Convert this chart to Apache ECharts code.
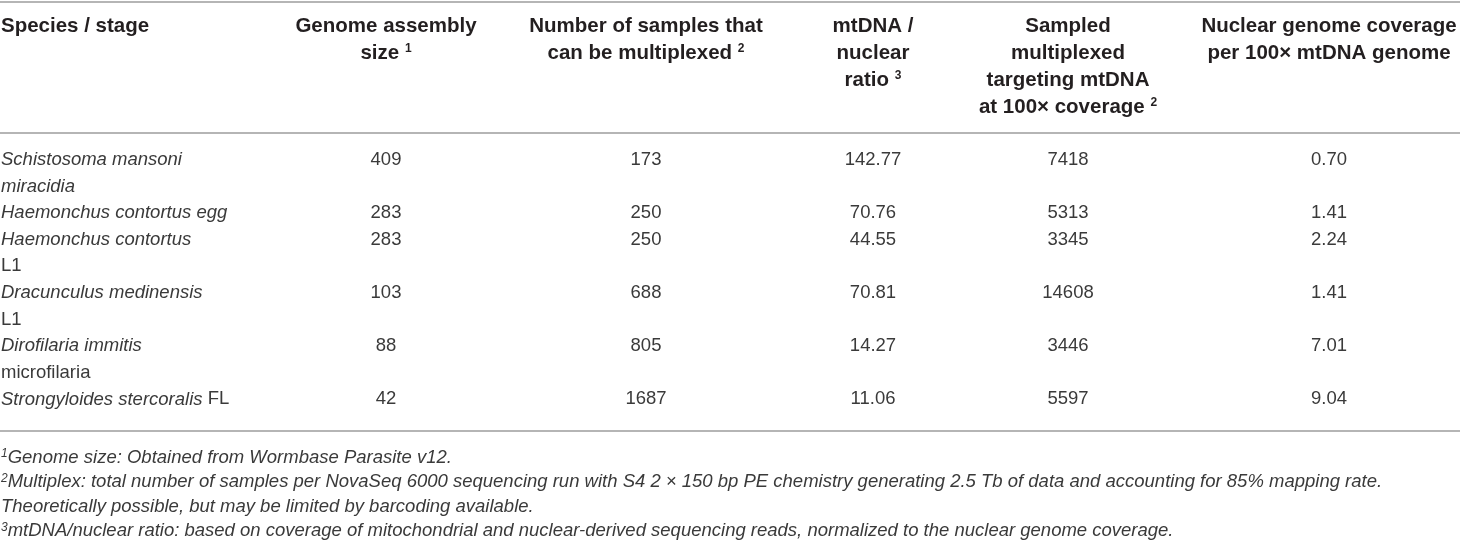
<!DOCTYPE html>
<html>
<head>
<meta charset="utf-8">
<script src="https://cdn.jsdelivr.net/npm/echarts@6/dist/echarts.min.js"></script>
<style>
html, body { margin: 0; padding: 0; background: #fff; }
#table { width: 1460px; height: 542px; }
</style>
</head>
<body>
<div id="table"></div>
<script>
// column headers, one entry per text line ({s|..} = superscript)
var headers = [
	['Species / stage'],
	['Genome assembly', 'size {s|1}'],
	['Number of samples that', 'can be multiplexed {s|2}'],
	['mtDNA /', 'nuclear', 'ratio {s|3}'],
	['Sampled', 'multiplexed', 'targeting mtDNA', 'at 100\u00d7 coverage {s|2}'],
	['Nuclear genome coverage', 'per 100\u00d7 mtDNA genome']
];

// species / stage, each row wraps onto one or two lines ({i|..} = italic)
var species = [
	['{i|Schistosoma mansoni}', '{i|miracidia}'],
	['{i|Haemonchus contortus egg}'],
	['{i|Haemonchus contortus}', 'L1'],
	['{i|Dracunculus medinensis}', 'L1'],
	['{i|Dirofilaria immitis}', 'microfilaria'],
	['{i|Strongyloides stercoralis} FL']
];

var genomeSize = [409, 283, 283, 103, 88, 42];
var multiplexed = [173, 250, 250, 688, 805, 1687];
var mtRatio = ['142.77', '70.76', '44.55', '70.81', '14.27', '11.06'];
var sampledMt = [7418, 5313, 3345, 14608, 3446, 5597];
var nuclearCov = ['0.70', '1.41', '2.24', '1.41', '7.01', '9.04'];

var footnotes = [
	'{s|1}Genome size: Obtained from Wormbase Parasite v12.',
	'{s|2}Multiplex: total number of samples per NovaSeq 6000 sequencing run with S4 2 \u00d7 150 bp PE chemistry generating 2.5 Tb of data and accounting for 85% mapping rate.',
	'Theoretically possible, but may be limited by barcoding available.',
	'{s|3}mtDNA/nuclear ratio: based on coverage of mitochondrial and nuclear-derived sequencing reads, normalized to the nuclear genome coverage.'
];

// layout (pixel units of the axes)
var colX = [1, 386, 646, 873, 1068, 1329];
var headTop = 26, headStep = 27;
var bodyTop = 160, bodyStep = 26.6;
var footTop = 457.5, footStep = 24.5;
var font = 'Liberation Sans, Arial, sans-serif';

var items = [];
function add(x, y, text, kind, align) {
	items.push({ x: x, y: y, text: text, kind: kind, align: align });
}

headers.forEach(function (lines, c) {
	lines.forEach(function (t, j) {
		add(colX[c], headTop + j * headStep, t, 'head', c == 0 ? 'left' : 'center');
	});
});

var line = 0;
var columns = [genomeSize, multiplexed, mtRatio, sampledMt, nuclearCov];
species.forEach(function (lines, r) {
	lines.forEach(function (t, j) {
		add(colX[0], bodyTop + (line + j) * bodyStep, t, 'body', 'left');
	});
	columns.forEach(function (col, c) {
		add(colX[c + 1], bodyTop + line * bodyStep, String(col[r]), 'body', 'center');
	});
	line += lines.length;
});

footnotes.forEach(function (t, j) {
	add(colX[0], footTop + j * footStep, t, 'foot', 'left');
});

var rules = [1.5, 133, 431];

var styles = {
	head: { fontWeight: 'bold', fontSize: 20.5, fontStyle: 'normal', fill: '#231f20' },
	body: { fontWeight: 'normal', fontSize: 18.5, fontStyle: 'normal', fill: '#3a3a3a' },
	foot: { fontWeight: 'normal', fontSize: 18.5, fontStyle: 'italic', fill: '#3a3a3a' }
};

function richFor(kind) {
	var s = styles[kind];
	return {
		s: { fontSize: 12, fontWeight: s.fontWeight, fontStyle: s.fontStyle, fontFamily: font, fill: s.fill, verticalAlign: 'top', lineHeight: 12 },
		i: { fontSize: s.fontSize, fontStyle: 'italic', fontWeight: s.fontWeight, fontFamily: font, fill: s.fill }
	};
}

var myChart = echarts.init(document.getElementById('table'), null, { renderer: 'canvas' });
var option = {
	animation: false,
	grid: { left: 0, right: 0, top: 0, bottom: 0 },
	xAxis: { type: 'value', min: 0, max: 1460, show: false },
	yAxis: { type: 'value', min: 0, max: 542, inverse: true, show: false },
	series: [{
		type: 'custom',
		clip: false,
		silent: true,
		data: items.map(function (it, i) { return [it.x, it.y, i]; }),
		renderItem: function (params, api) {
			var it = items[api.value(2)];
			var p = api.coord([api.value(0), api.value(1)]);
			var s = styles[it.kind];
			return {
				type: 'text',
				x: p[0],
				y: p[1],
				style: {
					text: it.text,
					rich: richFor(it.kind),
					fill: s.fill,
					fontFamily: font,
					fontSize: s.fontSize,
					fontWeight: s.fontWeight,
					fontStyle: s.fontStyle,
					align: it.align,
					verticalAlign: 'middle'
				}
			};
		},
		markLine: {
			silent: true,
			symbol: 'none',
			label: { show: false },
			lineStyle: { color: '#9c9c9c', width: 1.5, type: 'solid' },
			data: rules.map(function (y) { return { yAxis: y }; })
		}
	}]
};
myChart.setOption(option);
</script>
</body>
</html>
